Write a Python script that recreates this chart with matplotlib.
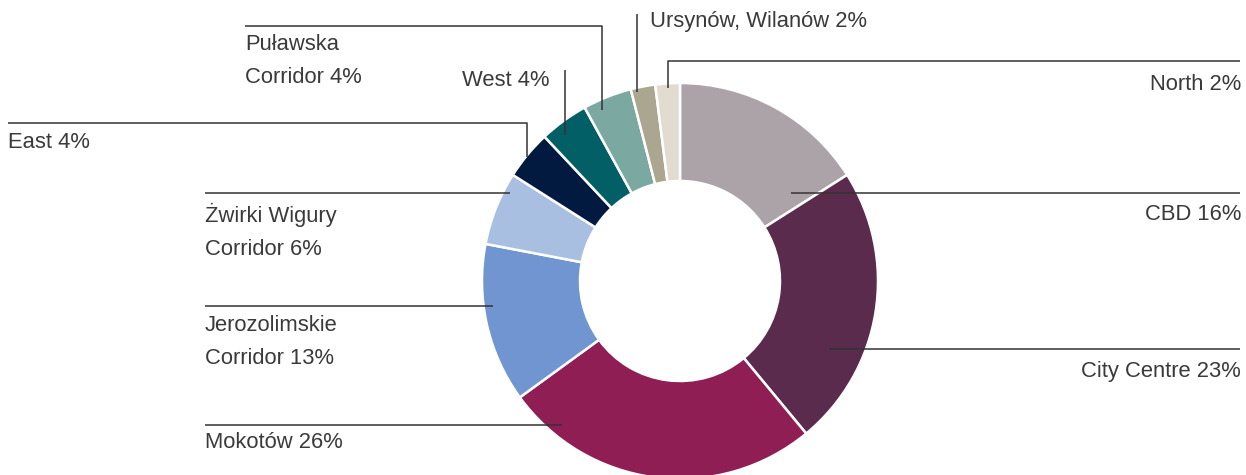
import matplotlib.pyplot as plt

# office stock by zone, clockwise from 12 o'clock
zones = ["CBD", "City Centre", "Mokotów", "Jerozolimskie\nCorridor",
         "Żwirki Wigury\nCorridor", "East", "West", "Puławska\nCorridor",
         "Ursynów, Wilanów", "North"]
shares = [16, 23, 26, 13, 6, 4, 4, 4, 2, 2]
colors = ["#aba3a8", "#5b2b4d", "#8e1e53", "#7195d0", "#a8bfe1",
          "#021a40", "#025f66", "#7ba8a1", "#aaa690", "#e1dccf"]

W, H = 1246, 475
cx, cy = 680, H - 281
r_out, r_in = 198, 100

fig = plt.figure(figsize=(W / 100, H / 100), dpi=100)
ax = fig.add_axes([0, 0, 1, 1])

ax.pie(shares, colors=colors, startangle=90, counterclock=False,
       center=(cx, cy), radius=r_out, frame=True,
       wedgeprops=dict(width=r_out - r_in, edgecolor="white", linewidth=1.8))
ax.set_xlim(0, W)
ax.set_ylim(0, H)
ax.set_aspect("equal")
ax.axis("off")

labels = [f"{z} {s}%" for z, s in zip(zones, shares)]

# leader polylines (pixel coords, y from top), text anchor, alignment
leaders = [
    ([(791, 193), (1240, 193)], (1241, 214), "right"),
    ([(829, 349), (1240, 349)], (1241, 372), "right"),
    ([(562, 425), (205, 425)], (205, 443), "left"),
    ([(493, 306), (205, 306)], (205, 342), "left"),
    ([(510, 193), (205, 193)], (205, 231), "left"),
    ([(527, 157), (527, 123), (8, 123)], (8, 143), "left"),
    ([(565, 135), (565, 70)], (550, 80), "right"),
    ([(602, 110), (602, 26), (245, 26)], (245, 61), "left"),
    ([(637, 92), (637, 14)], (650, 22), "left"),
    ([(668, 88), (668, 61), (1240, 61)], (1241, 84), "right"),
]

for label, (pts, (tx, ty), ha) in zip(labels, leaders):
    xs = [p[0] for p in pts]
    ys = [H - p[1] for p in pts]
    ax.plot(xs, ys, color="#333333", lw=1.1, solid_capstyle="butt", zorder=5)
    ax.text(tx, H - ty, label, ha=ha, va="center", fontsize=15.8,
            family="Liberation Sans", color="#3a3a3a", linespacing=1.75)

fig.savefig("out.png", dpi=100)
